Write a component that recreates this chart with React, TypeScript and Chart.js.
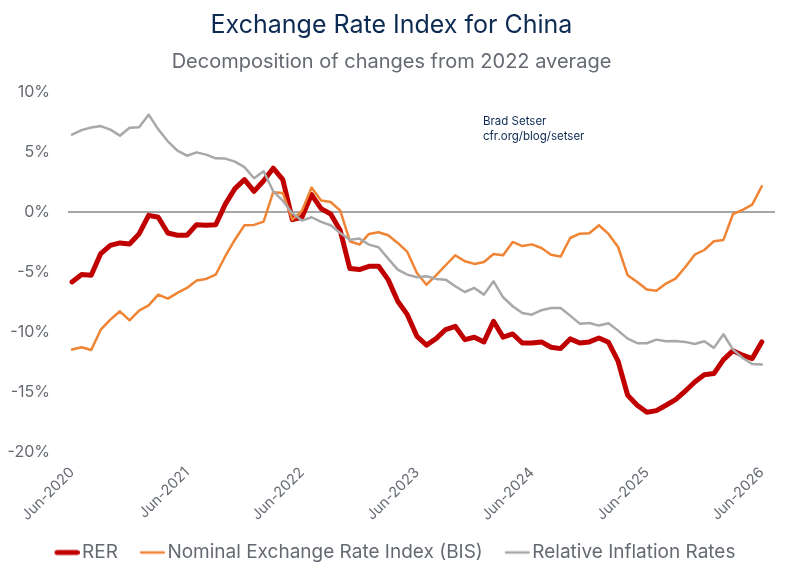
import React, { useEffect, useRef } from "react";
import { Chart, registerables } from "chart.js";

Chart.register(...registerables);

const MONTHS = ["Jan", "Feb", "Mar", "Apr", "May", "Jun", "Jul", "Aug", "Sep", "Oct", "Nov", "Dec"];
const START_YEAR = 2020;
const START_MONTH = 5; // June

const RER = [
  -5.83, -5.22, -5.28, -3.47, -2.78, -2.58, -2.67, -1.83, -0.28, -0.44, -1.75, -1.94,
  -1.94, -1.06, -1.11, -1.06, 0.65, 1.95, 2.7, 1.72, 2.6, 3.65, 2.69, -0.64,
  -0.44, 1.45, 0.28, -0.17, -1.55, -4.72, -4.8, -4.53, -4.53, -5.64, -7.44, -8.56,
  -10.36, -11.1, -10.56, -9.8, -9.53, -10.64, -10.44, -10.83, -9.11, -10.44, -10.17, -10.92,
  -10.92, -10.83, -11.28, -11.39, -10.58, -10.92, -10.83, -10.5, -10.86, -12.44, -15.28, -16.11,
  -16.69, -16.56, -16.11, -15.64, -14.94, -14.17, -13.56, -13.47, -12.31, -11.56, -11.94, -12.22,
  -10.83,
];

const NOMINAL = [
  -11.47, -11.28, -11.5, -9.81, -8.97, -8.28, -9.03, -8.22, -7.78, -6.89, -7.22, -6.75,
  -6.33, -5.72, -5.58, -5.22, -3.69, -2.31, -1.11, -1.08, -0.8, 1.65, 1.58, -0.64,
  0.1, 2.03, 0.95, 0.83, 0.11, -2.44, -2.72, -1.83, -1.69, -1.94, -2.58, -3.33,
  -5.08, -6.06, -5.28, -4.44, -3.61, -4.11, -4.33, -4.17, -3.5, -3.61, -2.5, -2.84,
  -2.7, -3.0, -3.56, -3.72, -2.17, -1.81, -1.78, -1.11, -1.83, -2.92, -5.28, -5.83,
  -6.47, -6.56, -5.97, -5.56, -4.61, -3.56, -3.17, -2.44, -2.33, -0.17, 0.17, 0.61,
  2.14,
];

const INFLATION = [
  6.44, 6.82, 7.04, 7.16, 6.86, 6.36, 7.02, 7.07, 8.11, 6.89, 5.89, 5.11,
  4.69, 4.97, 4.78, 4.47, 4.45, 4.2, 3.74, 2.81, 3.39, 1.72, 0.94, -0.1,
  -0.72, -0.44, -0.83, -1.11, -1.75, -2.31, -2.22, -2.72, -2.94, -3.89, -4.81, -5.22,
  -5.44, -5.36, -5.58, -5.64, -6.19, -6.67, -6.33, -6.89, -5.78, -7.11, -7.86, -8.42,
  -8.56, -8.19, -8.0, -8.0, -8.64, -9.31, -9.25, -9.47, -9.28, -9.89, -10.56, -10.94,
  -10.94, -10.64, -10.78, -10.75, -10.83, -11.0, -10.78, -11.33, -10.19, -11.47, -12.17, -12.67,
  -12.72,
];

const LABELS = RER.map((_, i) => {
  const m = START_MONTH + i;
  return `${MONTHS[m % 12]}-${START_YEAR + Math.floor(m / 12)}`;
});

const X_TICKS = [0, 12, 24, 36, 48, 60, 72];
const Y_TICKS = [10, 5, 0, -5, -10, -15, -20];

const SERIES_NAMES = ["RER", "Nominal Exchange Rate Index (BIS)", "Relative Inflation Rates"];
const COLORS = ["#c00000", "#ef8434", "#a8a8a8"];
const WIDTHS = [5, 2.5, 2.5];

const FONT = "Inter, 'DejaVu Sans', sans-serif";
const NAVY = "#0c2a52";
const GREY_TEXT = "#656a72";

function makeLegendLine(color: string, width: number, len: number, shift: number) {
  const c = document.createElement("canvas");
  c.width = len + 2 * shift;
  c.height = 8;
  const g = c.getContext("2d")!;
  g.strokeStyle = color;
  g.lineWidth = width;
  g.lineCap = "round";
  g.beginPath();
  g.moveTo(2 * shift + width / 2, 4);
  g.lineTo(2 * shift + len - width / 2, 4);
  g.stroke();
  return c;
}

const annotationPlugin = {
  id: "setserNote",
  afterDraw(chart: any) {
    const { ctx, scales } = chart;
    const x = scales.x.getPixelForValue(42.9);
    ctx.save();
    ctx.font = `11.5px ${FONT}`;
    ctx.fillStyle = NAVY;
    ctx.textBaseline = "middle";
    ctx.textAlign = "left";
    ctx.fillText("Brad Setser", x, scales.y.getPixelForValue(7.55));
    ctx.fillText("cfr.org/blog/setser", x, scales.y.getPixelForValue(6.3));
    ctx.restore();
  },
};

export default function App() {
  const ref = useRef<HTMLCanvasElement | null>(null);

  useEffect(() => {
    document.body.style.margin = "0";
    const legendImgs = COLORS.map((c, i) => makeLegendLine(c, WIDTHS[i], 25, 7));
    const seriesData = [RER, NOMINAL, INFLATION];
    const chart = new Chart(ref.current!, {
      type: "line",
      data: {
        labels: LABELS,
        datasets: seriesData.map((arr, i) => ({
          label: SERIES_NAMES[i],
          data: arr.map((y, x) => ({ x, y })),
          borderColor: COLORS[i],
          backgroundColor: COLORS[i],
          borderWidth: WIDTHS[i],
          pointRadius: 0,
          tension: 0,
          borderCapStyle: "round",
          borderJoinStyle: "round",
          order: 3 - i,
        })),
      },
      options: {
        animation: false,
        responsive: false,
        maintainAspectRatio: false,
        layout: { padding: { left: 8, right: 24, top: 6, bottom: 8 } },
        scales: {
          x: {
            type: "linear",
            min: -0.42,
            max: 73.38,
            afterBuildTicks: (scale: any) => {
              scale.ticks = X_TICKS.map((v) => ({ value: v }));
            },
            ticks: {
              autoSkip: false,
              maxRotation: 45,
              minRotation: 45,
              padding: 4,
              color: GREY_TEXT,
              font: { family: FONT, size: 14.5 },
              callback: (v: any) => LABELS[v as number],
            },
            grid: { display: false },
            border: { display: false },
          },
          y: {
            min: -20,
            max: 10,
            afterBuildTicks: (scale: any) => {
              scale.ticks = Y_TICKS.map((v) => ({ value: v }));
            },
            afterFit: (scale: any) => {
              scale.width = 60;
            },
            ticks: {
              padding: 18,
              color: GREY_TEXT,
              font: { family: FONT, size: 16 },
              callback: (v: any) => `${v}%`,
            },
            grid: {
              drawTicks: false,
              color: (ctx: any) => (ctx.tick && ctx.tick.value === 0 ? "#a6a6a6" : "rgba(0,0,0,0)"),
              lineWidth: 2,
            },
            border: { display: false },
          },
        },
        plugins: {
          title: {
            display: true,
            text: "Exchange Rate Index for China",
            color: NAVY,
            font: { family: FONT, size: 25, weight: "normal" },
            padding: { top: 4, bottom: 4 },
          },
          subtitle: {
            display: true,
            text: "Decomposition of changes from 2022 average",
            color: GREY_TEXT,
            font: { family: FONT, size: 20, weight: "normal" },
            padding: { top: 6, bottom: 18 },
          },
          legend: {
            position: "bottom",
            labels: {
              usePointStyle: true,
              pointStyleWidth: 25,
              padding: 15,
              color: GREY_TEXT,
              font: { family: FONT, size: 19 },
              generateLabels: (ch: any) =>
                Chart.defaults.plugins.legend.labels
                  .generateLabels(ch)
                  .sort((a: any, b: any) => a.datasetIndex - b.datasetIndex)
                  .map((item: any) => ({ ...item, pointStyle: legendImgs[item.datasetIndex] })),
            },
          },
          tooltip: { enabled: false },
        },
      },
      plugins: [annotationPlugin],
    } as any);
    return () => chart.destroy();
  }, []);

  return (
    <div style={{ width: 799, height: 580, background: "#fff" }}>
      <canvas ref={ref} width={799} height={580} style={{ display: "block", width: 799, height: 580 }} />
    </div>
  );
}
